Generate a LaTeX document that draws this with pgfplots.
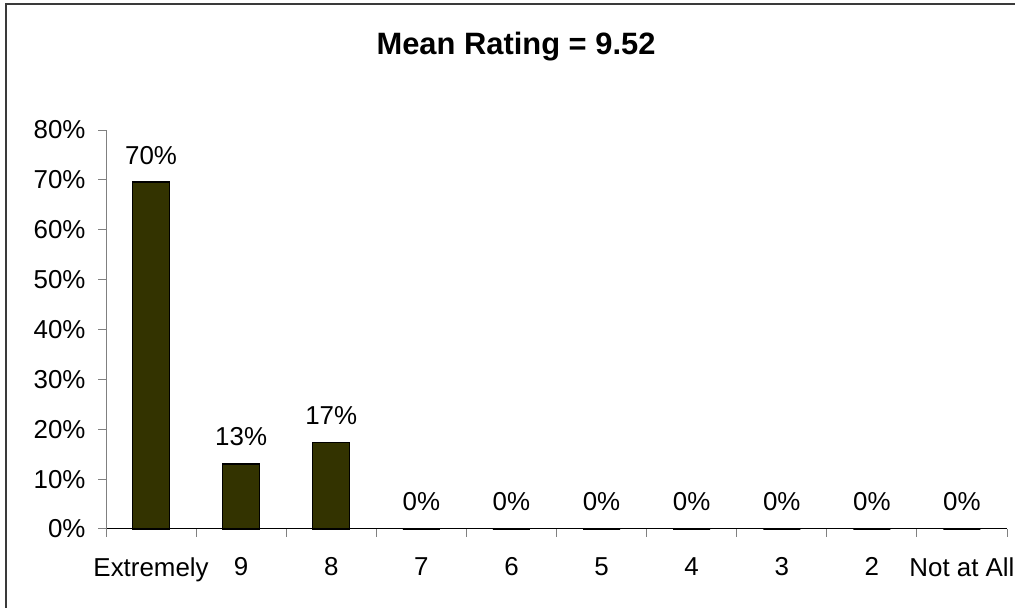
\documentclass[border=0pt]{standalone}
\usepackage{pgfplots}
\pgfplotsset{compat=1.18}
\usepackage{fontspec}
\setmainfont{Liberation Sans}
\definecolor{barolive}{HTML}{333300}
\definecolor{framegray}{HTML}{3A3A3A}
\definecolor{tickgray}{HTML}{808080}
\begin{document}
\begin{tikzpicture}
\path[use as bounding box] (0,0) rectangle (1015bp,608bp);
\clip (0,0) rectangle (1015bp,608bp);
% chart frame (left and top edges)
\draw[framegray, line width=2bp] (6bp,-20bp) -- (6bp,604bp) -- (1040bp,604bp);
% title
\node[anchor=base, font=\fontsize{31}{36}\selectfont\bfseries] at (516bp,553bp) {Mean Rating = 9.52};
\begin{axis}[
  scale only axis,
  width=901bp, height=399bp,
  at={(106bp,79bp)}, anchor=south west,
  xmin=-0.5, xmax=9.5,
  ymin=0, ymax=80,
  axis lines*=left,
  x axis line style={black, line width=1bp},
  y axis line style={tickgray, line width=1bp},
  tick align=outside,
  major tick length=8bp,
  tick style={tickgray, line width=1bp},
  ytick={0,10,...,80},
  yticklabel={\pgfmathprintnumber{\tick}\%},
  /pgf/number format/assume math mode=true,
  ticklabel style={font=\fontsize{26}{30}\selectfont},
  yticklabel style={xshift=-9bp},
  xtick={-0.5,0.5,...,9.5},
  xticklabels={},
  extra x ticks={0,1,2,3,4,5,6,7,8,9},
  extra x tick labels={Extremely,9,8,7,6,5,4,3,2,Not at All},
  extra x tick style={tick style={draw=none}, tick label style={yshift=-17bp}},
  ybar,
  bar width=37bp,
  nodes near coords={\pgfmathprintnumber[fixed,precision=0]{\pgfplotspointmeta}\%},
  nodes near coords style={font=\fontsize{26}{30}\selectfont, anchor=base, yshift=18bp},
  clip=false,
]
% share of responses, 23 respondents
\addplot[fill=barolive, draw=black, line width=1.2bp] coordinates {
  (0,69.57) (1,13.04) (2,17.39) (3,0) (4,0) (5,0) (6,0) (7,0) (8,0) (9,0)
};
\end{axis}
\end{tikzpicture}
\end{document}
